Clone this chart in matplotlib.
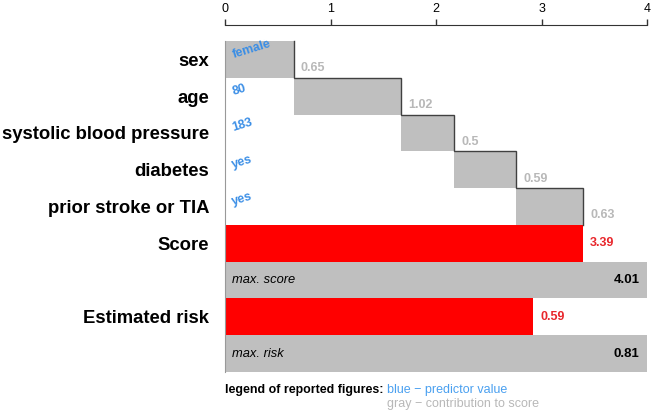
import numpy as np
import matplotlib
matplotlib.use('Agg')
import matplotlib.pyplot as plt

plt.rcParams['font.family'] = ['Liberation Sans', 'DejaVu Sans']

PREDICTORS = ['sex', 'age', 'systolic blood pressure', 'diabetes', 'prior stroke or TIA']
VALUES = ['female', '80', '183', 'yes', 'yes']
CONTRIB = [0.65, 1.02, 0.5, 0.59, 0.63]
MAX_SCORE = 4.01
RISK = 0.59
MAX_RISK = 0.81

GRAY = '#bfbfbf'
RED = '#ff0000'
BLUE = '#3a8ee6'
TXTGRAY = '#b8b8b8'

score = sum(CONTRIB)
starts = np.concatenate([[0], np.cumsum(CONTRIB)[:-1]])
ends = np.cumsum(CONTRIB)

fig = plt.figure(figsize=(6.51, 4.13), dpi=100)
ax = fig.add_axes([225/651, 1 - 372/413, 422/651, 347/413])

rows = np.arange(len(PREDICTORS))
ax.barh(rows, CONTRIB, left=starts, height=1, color=GRAY, edgecolor='none')

# step line along the tops of the waterfall bars
px, py = [], []
for i, e in enumerate(ends):
    if i > 0:
        px.append(starts[i]); py.append(i - 0.5)
    px += [e, e]
    py += [i - 0.5, i + 0.5]
ax.plot(px, py, color='#404040', lw=1, solid_joinstyle='miter')

for i in rows:
    ax.text(0.07, i - 0.12, VALUES[i], color=BLUE, fontsize=9, fontweight='bold',
            rotation=17, ha='left', va='center', rotation_mode='anchor')
    ax.text(ends[i] + 0.07, i + 0.24, f'{CONTRIB[i]:g}', color=TXTGRAY, fontsize=9,
            fontweight='bold', ha='left', va='center')

r_score = len(PREDICTORS)
ax.barh(r_score, score, height=1, color=RED)
ax.text(score + 0.07, r_score, f'{score:.2f}', color='#e8262b', fontsize=9,
        fontweight='bold', ha='left', va='center')
ax.barh(r_score + 1, MAX_SCORE, height=1, color=GRAY)
ax.text(0.07, r_score + 1, 'max. score', style='italic', fontsize=9.3, va='center')
ax.text(3.93, r_score + 1, f'{MAX_SCORE:.2f}', fontweight='bold', fontsize=9.5,
        ha='right', va='center')

risk_len = RISK / MAX_RISK * MAX_SCORE
ax.barh(r_score + 2, risk_len, height=1, color=RED)
ax.text(risk_len + 0.07, r_score + 2, f'{RISK:.2f}', color='#e8262b', fontsize=9,
        fontweight='bold', ha='left', va='center')
ax.barh(r_score + 3, MAX_SCORE, height=1, color=GRAY)
ax.text(0.07, r_score + 3, 'max. risk', style='italic', fontsize=9.3, va='center')
ax.text(3.93, r_score + 3, f'{MAX_RISK:.2f}', fontweight='bold', fontsize=9.5,
        ha='right', va='center')

ax.set_xlim(0, 4)
ax.set_ylim(r_score + 3.5, -0.935)
ax.xaxis.tick_top()
ax.set_xticks([0, 1, 2, 3, 4])
ax.tick_params(axis='x', length=4, width=1, color='#333333', labelsize=9, pad=3)
ax.set_yticks(list(rows) + [r_score, r_score + 2])
ax.set_yticklabels(PREDICTORS + ['Score', 'Estimated risk'], fontsize=13.3,
                   fontweight='bold')
ax.tick_params(axis='y', length=0, pad=11.5)
for s in ['right', 'bottom']:
    ax.spines[s].set_visible(False)
ax.spines['top'].set_color('#333333')
ax.spines['left'].set_color('#999999')
ax.spines['left'].set_bounds(-0.5, r_score + 3.5)

fig.text(225/651, 1 - 390/413, 'legend of reported figures:', fontweight='bold',
         fontsize=8.9, va='center')
fig.text(387/651, 1 - 390/413, 'blue \u2212 predictor value', color='#4aa0f0',
         fontsize=9, va='center')
fig.text(387/651, 1 - 404/413, 'gray \u2212 contribution to score', color=TXTGRAY,
         fontsize=9, va='center')

fig.savefig('out.png', dpi=100)
